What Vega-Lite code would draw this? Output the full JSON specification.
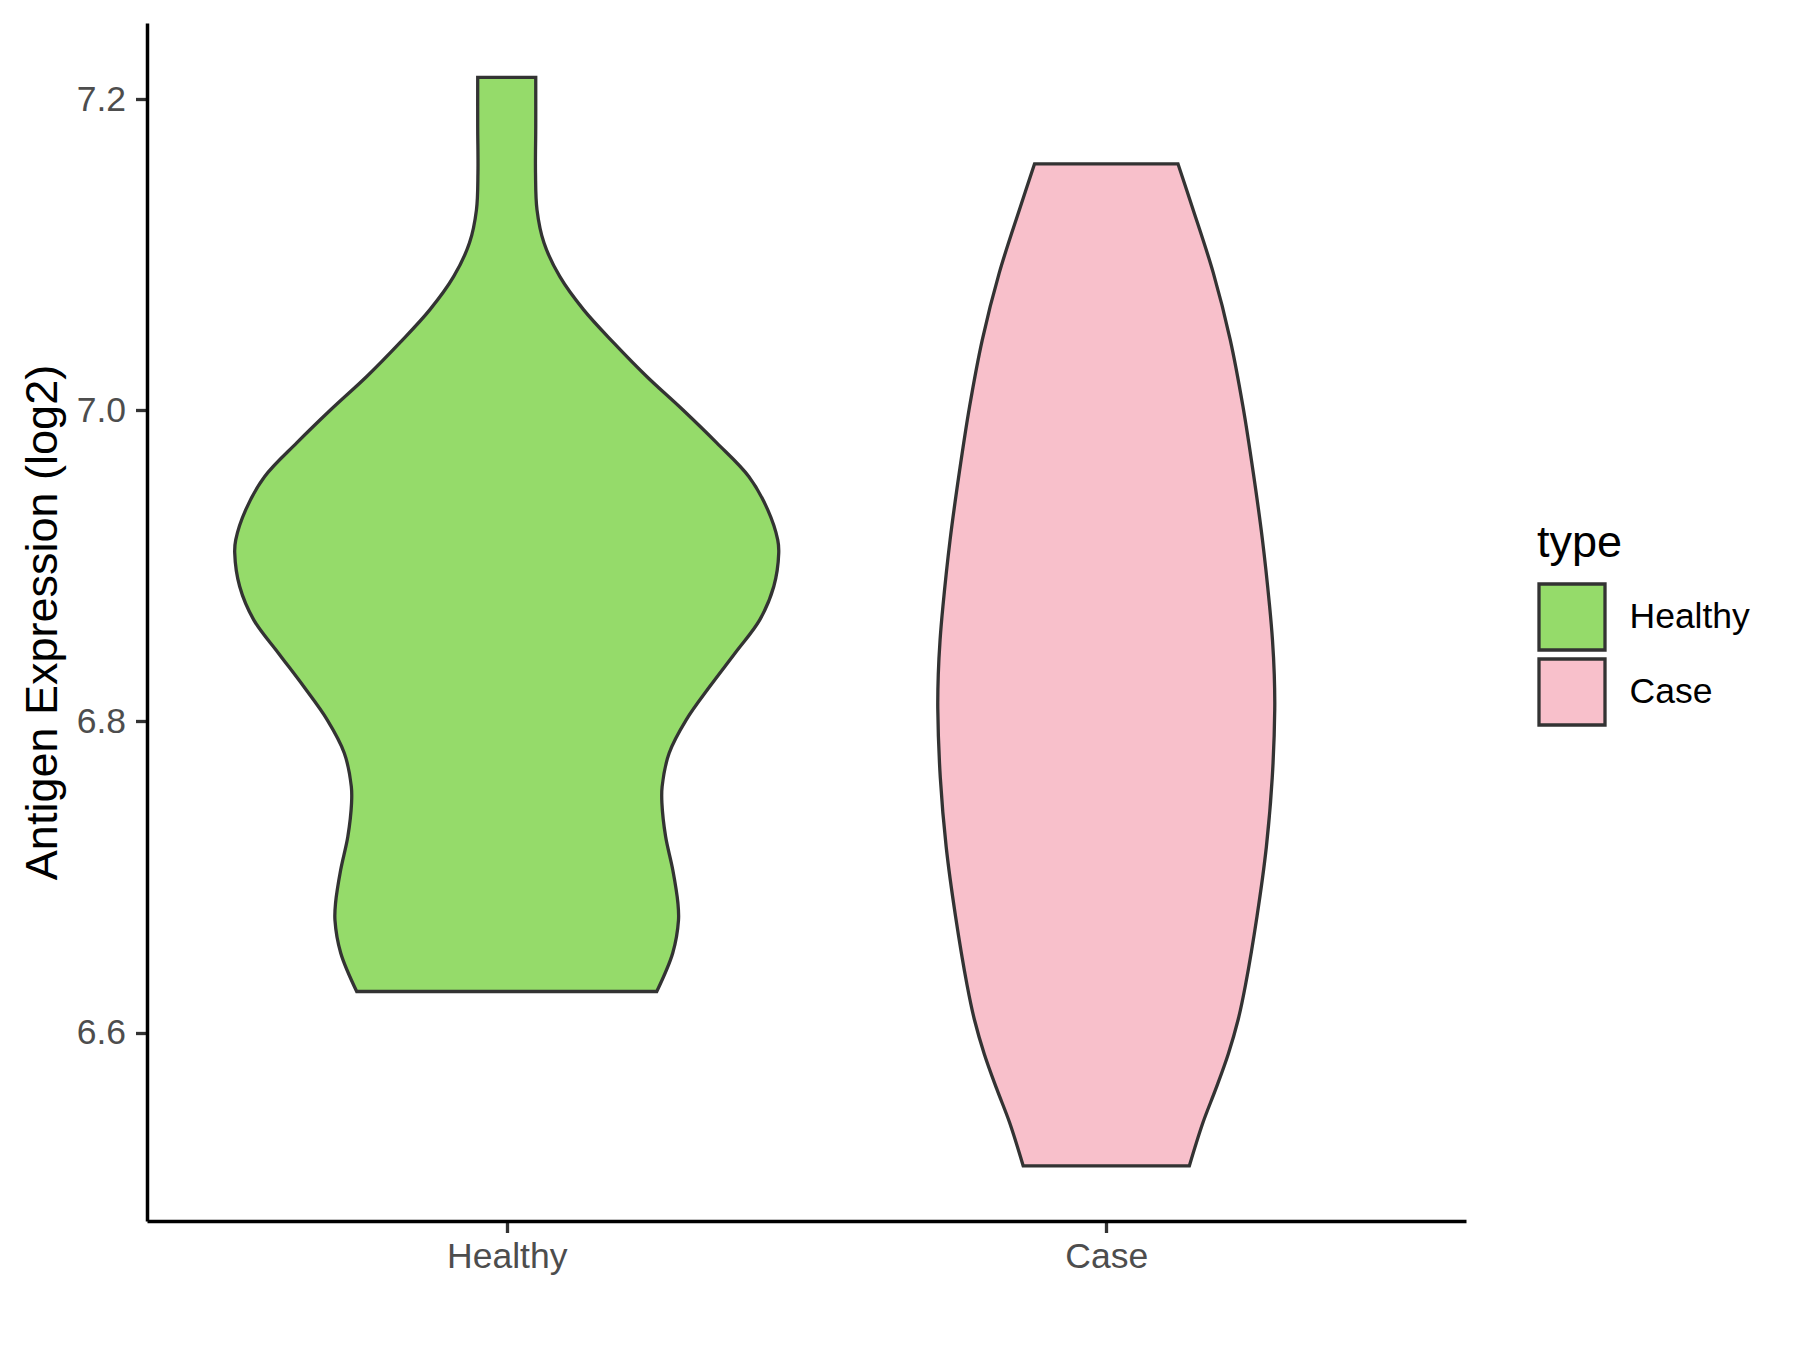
{
  "$schema": "https://vega.github.io/schema/vega-lite/v6.json",
  "width": 1319,
  "height": 1198,
  "autosize": "none",
  "padding": {"left": 147, "top": 23, "right": 334, "bottom": 129},
  "background": "white",
  "config": {
    "view": {"stroke": null},
    "font": "Liberation Sans"
  },
  "data": {
    "values": [
      {"type": "Healthy", "value": 7.2140, "lo": 0.9516, "hi": 1.0484},
      {"type": "Healthy", "value": 7.1824, "lo": 0.9516, "hi": 1.0484},
      {"type": "Healthy", "value": 7.1526, "lo": 0.9520, "hi": 1.0480},
      {"type": "Healthy", "value": 7.1288, "lo": 0.9495, "hi": 1.0505},
      {"type": "Healthy", "value": 7.1076, "lo": 0.9379, "hi": 1.0621},
      {"type": "Healthy", "value": 7.0860, "lo": 0.9116, "hi": 1.0884},
      {"type": "Healthy", "value": 7.0645, "lo": 0.8716, "hi": 1.1284},
      {"type": "Healthy", "value": 7.0433, "lo": 0.8215, "hi": 1.1785},
      {"type": "Healthy", "value": 7.0217, "lo": 0.7665, "hi": 1.2335},
      {"type": "Healthy", "value": 7.0003, "lo": 0.7064, "hi": 1.2936},
      {"type": "Healthy", "value": 6.9790, "lo": 0.6497, "hi": 1.3503},
      {"type": "Healthy", "value": 6.9574, "lo": 0.5963, "hi": 1.4037},
      {"type": "Healthy", "value": 6.9360, "lo": 0.5646, "hi": 1.4354},
      {"type": "Healthy", "value": 6.9167, "lo": 0.5480, "hi": 1.4520},
      {"type": "Healthy", "value": 6.9083, "lo": 0.5463, "hi": 1.4537},
      {"type": "Healthy", "value": 6.8867, "lo": 0.5546, "hi": 1.4454},
      {"type": "Healthy", "value": 6.8653, "lo": 0.5780, "hi": 1.4220},
      {"type": "Healthy", "value": 6.8440, "lo": 0.6190, "hi": 1.3810},
      {"type": "Healthy", "value": 6.8224, "lo": 0.6614, "hi": 1.3386},
      {"type": "Healthy", "value": 6.8010, "lo": 0.7006, "hi": 1.2994},
      {"type": "Healthy", "value": 6.7797, "lo": 0.7290, "hi": 1.2710},
      {"type": "Healthy", "value": 6.7581, "lo": 0.7408, "hi": 1.2592},
      {"type": "Healthy", "value": 6.7476, "lo": 0.7412, "hi": 1.2588},
      {"type": "Healthy", "value": 6.7260, "lo": 0.7350, "hi": 1.2650},
      {"type": "Healthy", "value": 6.7045, "lo": 0.7230, "hi": 1.2770},
      {"type": "Healthy", "value": 6.6833, "lo": 0.7145, "hi": 1.2855},
      {"type": "Healthy", "value": 6.6723, "lo": 0.7135, "hi": 1.2865},
      {"type": "Healthy", "value": 6.6512, "lo": 0.7231, "hi": 1.2769},
      {"type": "Healthy", "value": 6.6264, "lo": 0.7498, "hi": 1.2502},
      {"type": "Case", "value": 7.1584, "lo": 1.8804, "hi": 2.1196},
      {"type": "Case", "value": 7.1310, "lo": 1.8569, "hi": 2.1431},
      {"type": "Case", "value": 7.0883, "lo": 1.8215, "hi": 2.1785},
      {"type": "Case", "value": 7.0453, "lo": 1.7932, "hi": 2.2068},
      {"type": "Case", "value": 7.0024, "lo": 1.7720, "hi": 2.2280},
      {"type": "Case", "value": 6.9598, "lo": 1.7548, "hi": 2.2452},
      {"type": "Case", "value": 6.9167, "lo": 1.7395, "hi": 2.2605},
      {"type": "Case", "value": 6.8738, "lo": 1.7275, "hi": 2.2725},
      {"type": "Case", "value": 6.8524, "lo": 1.7228, "hi": 2.2772},
      {"type": "Case", "value": 6.8302, "lo": 1.7198, "hi": 2.2802},
      {"type": "Case", "value": 6.8080, "lo": 1.7190, "hi": 2.2810},
      {"type": "Case", "value": 6.7637, "lo": 1.7232, "hi": 2.2768},
      {"type": "Case", "value": 6.7193, "lo": 1.7330, "hi": 2.2670},
      {"type": "Case", "value": 6.6750, "lo": 1.7485, "hi": 2.2515},
      {"type": "Case", "value": 6.6306, "lo": 1.7678, "hi": 2.2322},
      {"type": "Case", "value": 6.6084, "lo": 1.7800, "hi": 2.2200},
      {"type": "Case", "value": 6.5863, "lo": 1.7965, "hi": 2.2035},
      {"type": "Case", "value": 6.5641, "lo": 1.8170, "hi": 2.1830},
      {"type": "Case", "value": 6.5419, "lo": 1.8390, "hi": 2.1610},
      {"type": "Case", "value": 6.5143, "lo": 1.8615, "hi": 2.1385}
    ]
  },
  "mark": {
    "type": "area",
    "orient": "horizontal",
    "interpolate": "catmull-rom",
    "stroke": "#333333",
    "strokeWidth": 3.3,
    "strokeJoin": "miter",
    "fillOpacity": 1
  },
  "encoding": {
    "y": {
      "field": "value",
      "type": "quantitative",
      "scale": {"domain": [6.4789, 7.2489], "nice": false, "zero": false},
      "axis": {
        "title": "Antigen Expression (log2)",
        "titleFontSize": 45,
        "titleFontWeight": "normal",
        "titleColor": "#000000",
        "titleFont": "Liberation Sans",
        "titleAngle": 270,
        "titleBaseline": "alphabetic",
        "titleAlign": "center",
        "titleX": -91,
        "titleY": 599,
        "values": [6.6, 6.8, 7.0, 7.2],
        "format": ".1f",
        "grid": false,
        "domainColor": "#000000",
        "domainWidth": 3.5,
        "tickColor": "#333333",
        "tickWidth": 3.3,
        "tickSize": 11.5,
        "labelFontSize": 35.5,
        "labelColor": "#4D4D4D",
        "labelFont": "Liberation Sans",
        "labelPadding": 10
      }
    },
    "x": {
      "field": "lo",
      "type": "quantitative",
      "stack": null,
      "scale": {"domain": [0.4, 2.6], "nice": false, "zero": false},
      "axis": {
        "title": null,
        "values": [1, 2],
        "labelExpr": "datum.value == 1 ? 'Healthy' : 'Case'",
        "grid": false,
        "domainColor": "#000000",
        "domainWidth": 3.5,
        "tickColor": "#333333",
        "tickWidth": 3.3,
        "tickSize": 11.5,
        "labelFontSize": 35.5,
        "labelColor": "#4D4D4D",
        "labelFont": "Liberation Sans",
        "labelBaseline": "alphabetic",
        "labelPadding": 34.5,
        "labelFlush": false
      }
    },
    "x2": {"field": "hi"},
    "color": {
      "field": "type",
      "type": "nominal",
      "scale": {"domain": ["Healthy", "Case"], "range": ["#95DB6A", "#F8C0CB"]},
      "legend": {
        "title": "type",
        "orient": "none",
        "legendX": 1390,
        "legendY": 497.5,
        "padding": 0,
        "titleFontSize": 45,
        "titleFontWeight": "normal",
        "titleColor": "#000000",
        "titleFont": "Liberation Sans",
        "titlePadding": 16.5,
        "labelFontSize": 35.5,
        "labelColor": "#000000",
        "labelFont": "Liberation Sans",
        "labelOffset": 22.5,
        "symbolType": "square",
        "symbolSize": 4356,
        "symbolStrokeColor": "#333333",
        "symbolStrokeWidth": 3.3,
        "symbolOpacity": 1,
        "rowPadding": -7
      }
    }
  }
}
